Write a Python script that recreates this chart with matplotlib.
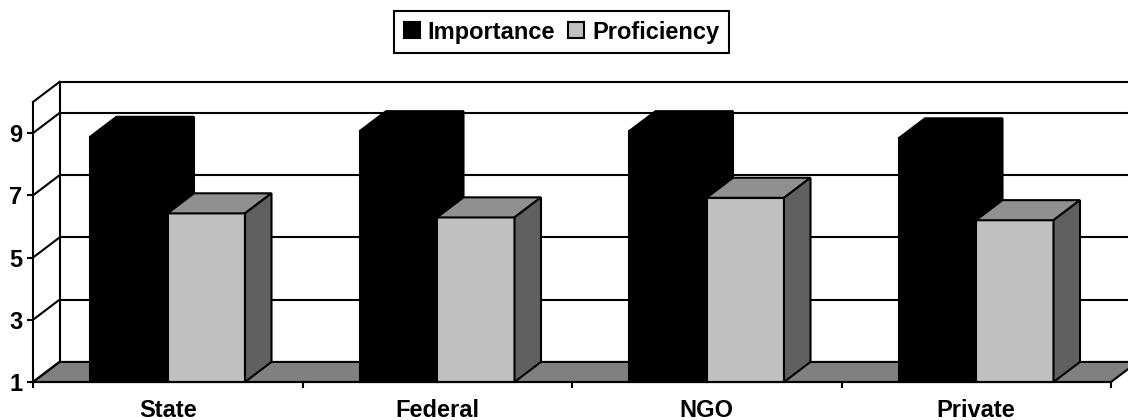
#!/usr/bin/env python3
# -*- coding: utf-8 -*-
import matplotlib
matplotlib.use('Agg')
from matplotlib import pyplot as plt
from matplotlib.patches import Patch, Polygon

categories = ['State', 'Federal', 'NGO', 'Private']
importance = [8.88, 9.06, 9.06, 8.83]
proficiency = [6.42, 6.29, 6.92, 6.20]
y_ticks = [1, 3, 5, 7, 9]

plt.rcParams['font.family'] = ['Liberation Sans', 'DejaVu Sans']
plt.rcParams['font.weight'] = 'bold'
plt.rcParams['font.size'] = 17

W, H = 1128, 420
LW = 1.5
DX = 26.5 / 269.5  # depth offset, categories
DY = 20 / 31  # depth offset, value units
BAR_W = 77.5 / 269.5
BAR_OFF = 57 / 269.5

fig = plt.figure(figsize=(W / 100, H / 100), dpi=100)
ax = fig.add_axes([33 / W, (H - 382) / H, 1078 / W, 280 / H])
ax.set_xlim(0, 4)
ax.set_ylim(1, 10)
ax.patch.set_visible(False)


def line(xs, ys, z=1):
    ax.plot(xs, ys, color='black', lw=LW, clip_on=False, zorder=z,
            solid_capstyle='projecting')


def poly(pts, face, z, edge='black'):
    ax.add_patch(Polygon(pts, closed=True, facecolor=face, edgecolor=edge,
                         lw=LW, clip_on=False, zorder=z, joinstyle='miter'))


def bar3d(x, val, front, top, side, z):
    x1 = x + BAR_W
    poly([(x, 1), (x1, 1), (x1, val), (x, val)], front, z)
    poly([(x, val), (x1, val), (x1 + DX, val + DY), (x + DX, val + DY)], top, z)
    poly([(x1, 1), (x1 + DX, 1 + DY), (x1 + DX, val + DY), (x1, val)], side, z)


# floor and walls
poly([(0, 1), (DX, 1 + DY), (4 + DX, 1 + DY), (4, 1)], '#808080', 1)
for v in y_ticks + [10]:
    line([0, DX], [v, v + DY])
    if v > 1:
        line([DX, 4 + DX], [v + DY, v + DY])
line([DX, DX], [1 + DY, 10 + DY])

# bars
for i in range(len(categories)):
    x = i + BAR_OFF
    bar3d(x, importance[i], 'black', 'black', 'black', 3 + 2 * i)
    bar3d(x + BAR_W, proficiency[i], '#c0c0c0', '#909090', '#606060', 4 + 2 * i)

ax.spines['top'].set_visible(False)
ax.spines['right'].set_visible(False)
ax.spines['left'].set_linewidth(LW)
ax.spines['bottom'].set_linewidth(LW)
ax.spines['left'].set_zorder(20)
ax.spines['bottom'].set_zorder(20)

ax.set_yticks(y_ticks)
ax.set_yticklabels([str(v) for v in y_ticks])
ax.set_xticks(range(len(categories) + 1))
ax.set_xticklabels([])
ax.set_xticks([i + 0.5 for i in range(len(categories))], minor=True)
ax.set_xticklabels(categories, minor=True)
ax.tick_params(axis='y', length=4, width=LW, pad=3.5)
ax.tick_params(axis='x', which='major', length=4.5, width=LW)
ax.tick_params(axis='x', which='minor', length=0, pad=12)

handles = [Patch(facecolor='black', edgecolor='black', lw=LW, label='Importance'),
           Patch(facecolor='#c0c0c0', edgecolor='black', lw=LW, label='Proficiency')]
leg = fig.legend(handles=handles, loc='center', ncol=2,
                 bbox_to_anchor=(561.5 / W, (H - 32) / H),
                 frameon=True, fancybox=False, framealpha=1, edgecolor='black',
                 handlelength=0.68, handleheight=0.68, handletextpad=0.34,
                 columnspacing=0.55, borderpad=0.42, borderaxespad=0)
leg.get_frame().set_linewidth(LW)

fig.savefig('out.png', dpi=100)
